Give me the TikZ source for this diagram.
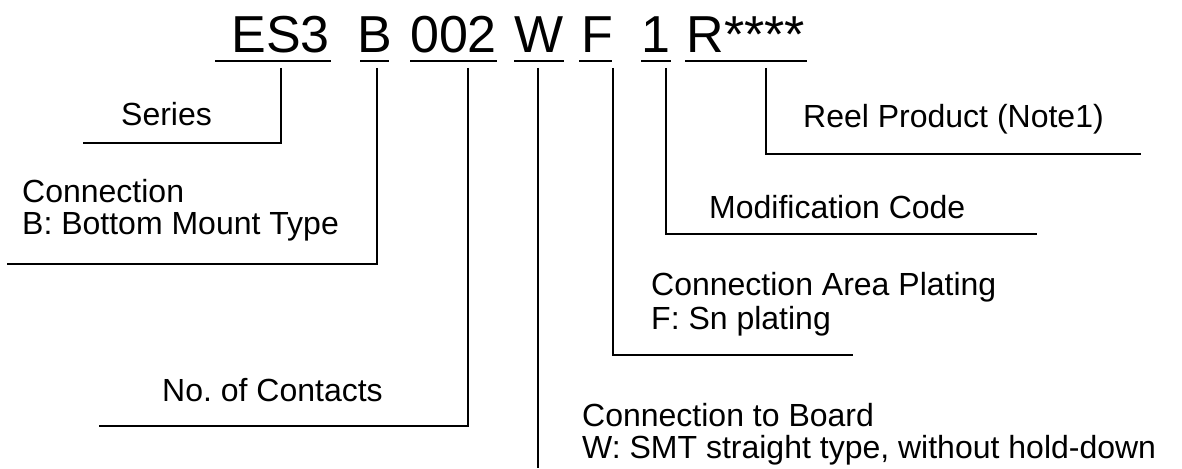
\documentclass[tikz,border=0pt]{standalone}
\usepackage{fontspec}
\setmainfont{Liberation Sans}
\begin{document}
\begin{tikzpicture}[x=1pt,y=-1pt,
  lbl/.style={anchor=base west, inner sep=0pt, font=\fontsize{32}{36}\selectfont},
  code/.style={anchor=base, inner sep=0pt, font=\fontsize{52}{60}\selectfont},
  uline/.style={line width=2.6pt},
  leader/.style={line width=2pt}]
\useasboundingbox (0,0) rectangle (1182,468);
% code letters
\node[code] (cES) at (280.5,53) {ES3};
\node[code] (cB) at (374.5,53) {B};
\node[code] (c002) at (453.5,53) {002};
\node[code] (cW) at (539,53) {W};
\node[code] (cF) at (597,53) {F};
\node[code] (c1) at (656,53) {1};
\node[code] (cR) at (746,53) {R****};
% underlines
\draw[uline] (215,61) -- (331,61);
\draw[uline] (360,61) -- (389,61);
\draw[uline] (410,61) -- (497,61);
\draw[uline] (514,61) -- (564,61);
\draw[uline] (579,61) -- (612,61);
\draw[uline] (641,61) -- (671,61);
\draw[uline] (685,61) -- (807,61);
% leader start/end coordinates
\coordinate (sS) at (281,68);  \coordinate (eS) at (83,143);
\coordinate (sB) at (377,68);  \coordinate (eB) at (7,264);
\coordinate (sN) at (468,68);  \coordinate (eN) at (99,426);
\coordinate (sW) at (538,68);  \coordinate (eW) at (538,468);
\coordinate (sF) at (613,68);  \coordinate (eF) at (853,355);
\coordinate (s1) at (666,68);  \coordinate (e1) at (1037,234);
\coordinate (sR) at (766,68);  \coordinate (eR) at (1141,154);
\draw[leader] (sS) |- (eS);
\draw[leader] (sB) |- (eB);
\draw[leader] (sN) |- (eN);
\draw[leader] (sW) -- (eW);
\draw[leader] (sF) |- (eF);
\draw[leader] (s1) |- (e1);
\draw[leader] (sR) |- (eR);
% labels
\node[lbl] (tS) at (121,125) {Series};
\node[lbl] (tB1) at (22,202) {Connection};
\node[lbl] (tB2) at (22,234) {B: Bottom Mount Type};
\node[lbl] (tR) at (803,128) {Reel Product (Note1)};
\node[lbl] (t1) at (709,218) {Modification Code};
\node[lbl] (tF1) at (651,295) {Connection Area Plating};
\node[lbl] (tF2) at (651,329) {F: Sn plating};
\node[lbl] (tN) at (162,401) {No.\ of Contacts};
\node[lbl] (tW1) at (582,426) {Connection to Board};
\node[lbl] (tW2) at (582,458) {W: SMT straight type, without hold-down};
\end{tikzpicture}
\end{document}
